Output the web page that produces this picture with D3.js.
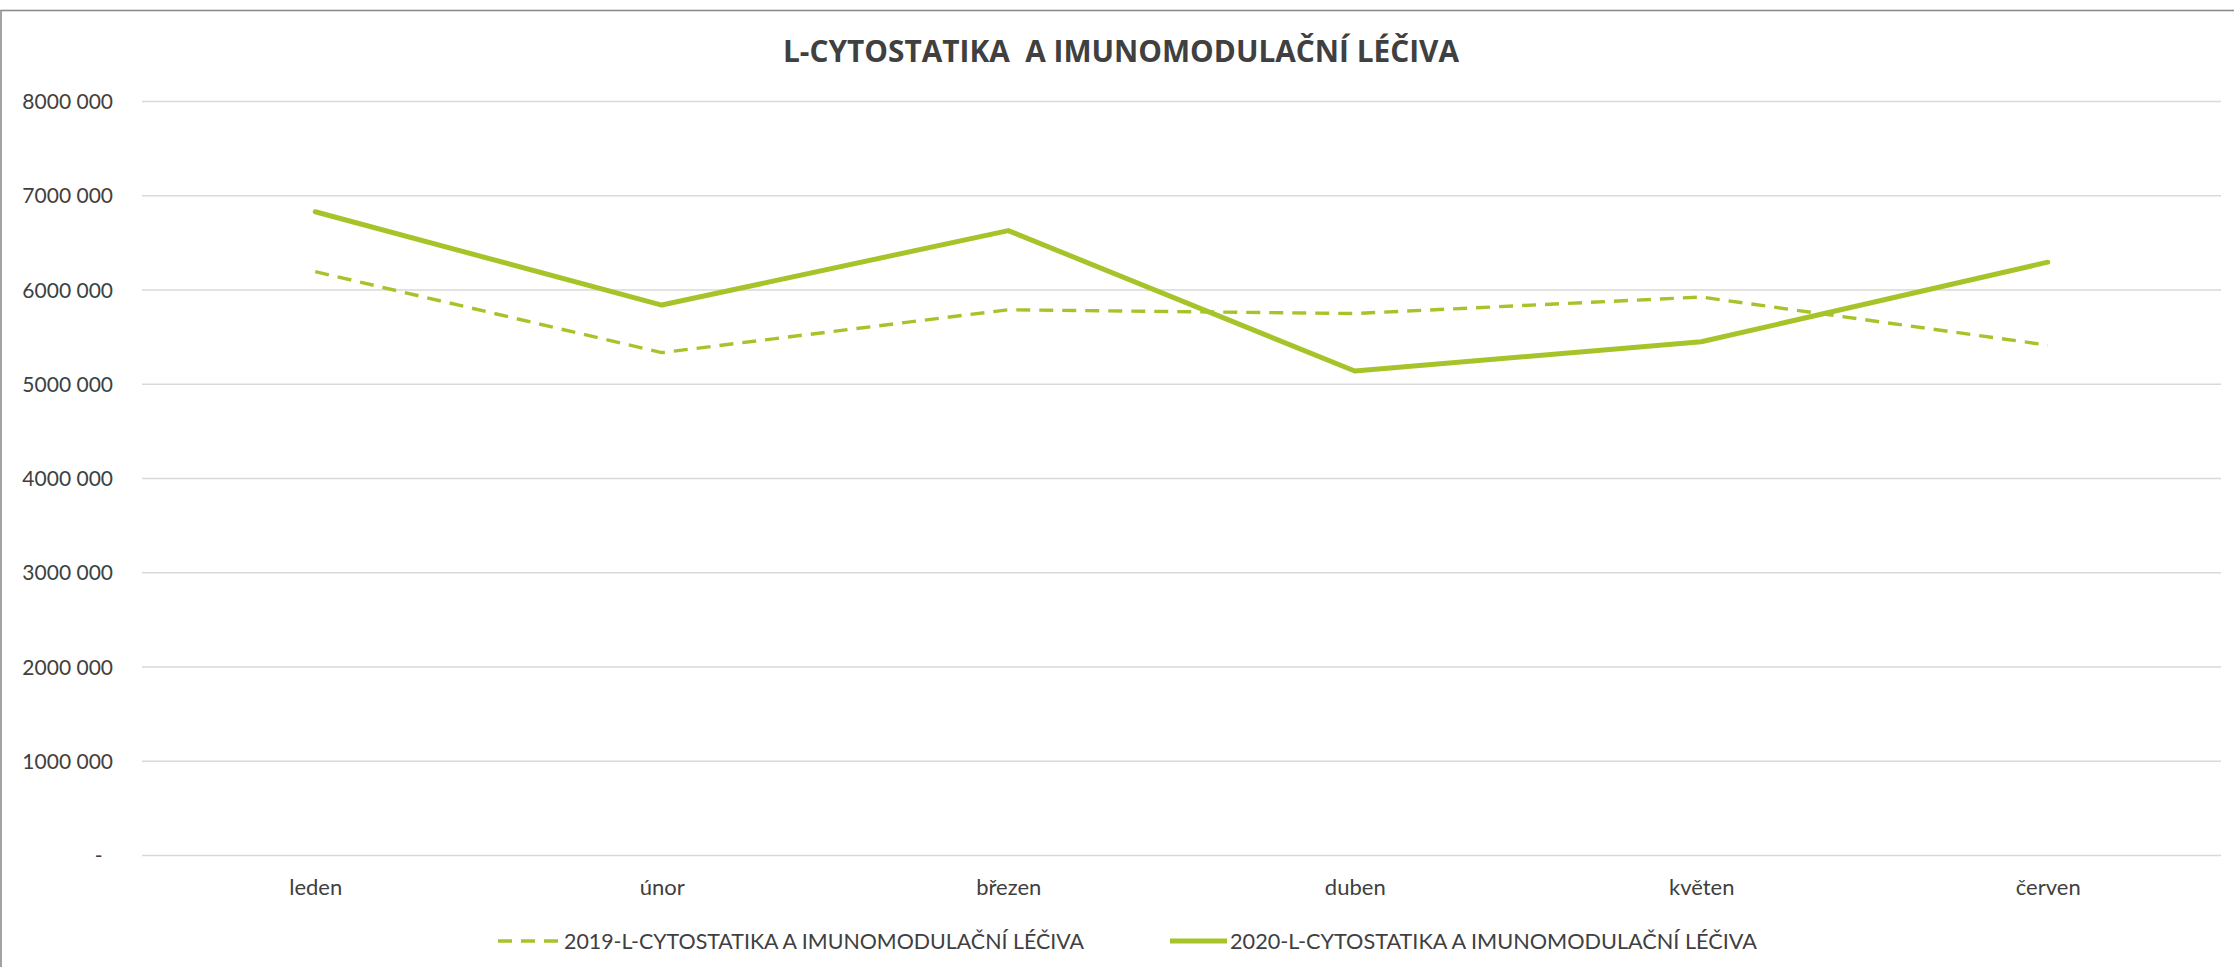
<!DOCTYPE html>
<html lang="cs">
<head>
<meta charset="utf-8">
<script src="https://cdn.jsdelivr.net/npm/d3@7"></script>
<style>
  html, body { margin: 0; padding: 0; background: #ffffff; }
  svg { display: block; }
</style>
</head>
<body>
<svg id="chart" width="2234" height="967"></svg>
<script>
// Monthly spending, cytostatics and immunomodulators
const months = ["leden", "únor", "březen", "duben", "květen", "červen"];
const values2019 = [6190000, 5330000, 5785000, 5745000, 5920000, 5410000];
const values2020 = [6825000, 5835000, 6625000, 5135000, 5445000, 6290000];
const tickValues = [0, 1000000, 2000000, 3000000, 4000000, 5000000, 6000000, 7000000, 8000000];
const tickLabels = ["-", "1000 000", "2000 000", "3000 000", "4000 000", "5000 000", "6000 000", "7000 000", "8000 000"];
const seriesNames = ["2019-L-CYTOSTATIKA A IMUNOMODULAČNÍ LÉČIVA", "2020-L-CYTOSTATIKA A IMUNOMODULAČNÍ LÉČIVA"];
const chartTitle = "L-CYTOSTATIKA  A IMUNOMODULAČNÍ LÉČIVA";

const W = 2234, H = 967;
const plot = { left: 142, right: 2221, top: 101, bottom: 855 };
const green = "#a6c42a";
const textColor = "#404040";
const labelFont = "Lato, 'Open Sans', sans-serif";

const svg = d3.select("#chart");

// chart area frame
svg.append("rect")
  .attr("x", 1).attr("y", 10.5)
  .attr("width", W + 10).attr("height", H + 10)
  .attr("fill", "#ffffff")
  .attr("stroke", "#8c8c8c")
  .attr("stroke-width", 1.6);

const x = d3.scalePoint()
  .domain(months)
  .range([plot.left, plot.right])
  .padding(0.5);

const y = d3.scaleLinear()
  .domain([0, 8000000])
  .range([plot.bottom, plot.top]);

// horizontal gridlines + value labels
const yAxis = d3.axisLeft(y)
  .tickValues(tickValues)
  .tickSize(-(plot.right - plot.left))
  .tickPadding(29)
  .tickFormat((d, i) => tickLabels[i] === "-" ? "-\u2002" : tickLabels[i]);

const gy = svg.append("g")
  .attr("transform", `translate(${plot.left},0)`)
  .call(yAxis);
gy.select(".domain").remove();
gy.selectAll(".tick line")
  .attr("stroke", "#d9d9d9")
  .attr("stroke-width", 1.6);
gy.selectAll(".tick text")
  .attr("fill", textColor)
  .attr("font-family", labelFont)
  .attr("font-size", 21)
  .attr("dy", "0.36em");

// month labels
const xAxis = d3.axisBottom(x).tickSize(0).tickPadding(0);
const gx = svg.append("g")
  .attr("transform", `translate(0,${plot.bottom})`)
  .call(xAxis);
gx.select(".domain").remove();
gx.selectAll(".tick text")
  .attr("fill", textColor)
  .attr("font-family", labelFont)
  .attr("font-size", 22)
  .attr("dy", null)
  .attr("y", 40);

// series lines
const line = d3.line()
  .x((d, i) => x(months[i]))
  .y(d => y(d));

svg.append("path")
  .datum(values2019)
  .attr("d", line)
  .attr("fill", "none")
  .attr("stroke", green)
  .attr("stroke-width", 3.4)
  .attr("stroke-dasharray", "14 9")
  .attr("stroke-linejoin", "round");

svg.append("path")
  .datum(values2020)
  .attr("d", line)
  .attr("fill", "none")
  .attr("stroke", green)
  .attr("stroke-width", 5)
  .attr("stroke-linejoin", "round")
  .attr("stroke-linecap", "round");

// title
svg.append("text")
  .attr("x", 783)
  .attr("y", 62)
  .attr("textLength", 676)
  .attr("lengthAdjust", "spacingAndGlyphs")
  .attr("fill", textColor)
  .attr("font-family", "'Open Sans', sans-serif")
  .attr("font-weight", 700)
  .attr("font-size", 31)
  .attr("xml:space", "preserve")
  .text(chartTitle);

// legend
const legendItems = [
  { name: seriesNames[0], x0: 498, x1: 558, tx: 564, tw: 520, dash: "14 9", w: 3.4 },
  { name: seriesNames[1], x0: 1170, x1: 1227, tx: 1230, tw: 527, dash: null, w: 5 }
];
const legendY = 941;
const lg = svg.append("g");
legendItems.forEach(item => {
  lg.append("line")
    .attr("x1", item.x0).attr("x2", item.x1)
    .attr("y1", legendY).attr("y2", legendY)
    .attr("stroke", green)
    .attr("stroke-width", item.w)
    .attr("stroke-dasharray", item.dash);
  lg.append("text")
    .attr("x", item.tx)
    .attr("y", legendY)
    .attr("dy", "0.36em")
    .attr("textLength", item.tw)
    .attr("lengthAdjust", "spacingAndGlyphs")
    .attr("fill", textColor)
    .attr("font-family", labelFont)
    .attr("font-size", 21)
    .text(item.name);
});
</script>
</body>
</html>
